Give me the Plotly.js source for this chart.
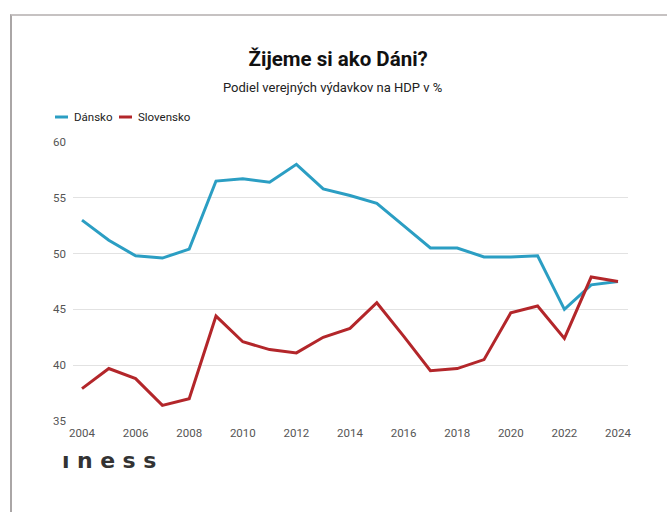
<!DOCTYPE html>
<html>
<head>
<meta charset="utf-8">
<script src="https://cdn.plot.ly/plotly-3.0.1.min.js"></script>
<style>
  html, body { margin: 0; padding: 0; background: #fff; }
  #frame { position: absolute; left: 10px; top: 14px; width: 720px; height: 600px;
           border-top: 2px solid #c6c2c2; border-left: 2px solid #aaa6a6; }
  #chart { position: absolute; left: 0; top: 0; width: 667px; height: 512px; }
  #logo { position: absolute; left: 62px; top: 450px; font-family: "DejaVu Sans", sans-serif;
          font-weight: bold; font-size: 22px; letter-spacing: 7.5px; color: #333; line-height: 22px; }
</style>
</head>
<body>
<div id="frame"></div>
<div id="chart"></div>
<div id="logo">ıness</div>
<script>
const years = [2004, 2005, 2006, 2007, 2008, 2009, 2010, 2011, 2012, 2013, 2014,
               2015, 2016, 2017, 2018, 2019, 2020, 2021, 2022, 2023, 2024];
const dansko = [53.0, 51.2, 49.8, 49.6, 50.4, 56.5, 56.7, 56.4, 58.0, 55.8, 55.2,
                54.5, 52.5, 50.5, 50.5, 49.7, 49.7, 49.8, 45.0, 47.2, 47.5];
const slovensko = [37.9, 39.7, 38.8, 36.4, 37.0, 44.4, 42.1, 41.4, 41.1, 42.5, 43.3,
                   45.6, 42.6, 39.5, 39.7, 40.5, 44.7, 45.3, 42.4, 47.9, 47.5];
const seriesNames = ["Dánsko", "Slovensko"];
const colors = ["#2b9ec3", "#b3262a"];

const traces = [dansko, slovensko].map((vals, i) => ({
  x: years,
  y: vals,
  mode: 'lines',
  name: seriesNames[i],
  line: { color: colors[i], width: 3 },
  showlegend: false
}));

// legend drawn by hand: short swatches + labels
const swatchX = [[-0.0324, -0.009], [0.0829, 0.1063]];
const labelX = [-0.0018, 0.1135];
const legY = 1.0896;

const shapes = swatchX.map((sx, i) => ({
  type: 'line', xref: 'paper', yref: 'paper',
  x0: sx[0], x1: sx[1], y0: legY, y1: legY,
  line: { color: colors[i], width: 3 }
}));

const annotations = [
  {
    text: 'Podiel verejných výdavkov na HDP v %',
    xref: 'paper', yref: 'paper', x: 0.468, y: 1.195,
    xanchor: 'center', yanchor: 'middle', showarrow: false,
    font: { family: 'Roboto', size: 13, color: '#222' }
  }
].concat(seriesNames.map((n, i) => ({
  text: n, xref: 'paper', yref: 'paper', x: labelX[i], y: legY,
  xanchor: 'left', yanchor: 'middle', showarrow: false,
  font: { family: 'Roboto', size: 11.5, color: '#222' }
})));

Plotly.newPlot('chart', traces, {
  width: 667,
  height: 512,
  margin: { l: 73, r: 39, t: 142, b: 91 },
  paper_bgcolor: 'rgba(0,0,0,0)',
  plot_bgcolor: 'rgba(0,0,0,0)',
  font: { family: 'Roboto', color: '#555' },
  title: {
    text: '<b>Žijeme si ako Dáni?</b>',
    x: 0.507, xanchor: 'center', y: 0.885, yanchor: 'middle',
    font: { family: 'Roboto', size: 20.5, color: '#111' }
  },
  xaxis: {
    range: [2003.664, 2024.373],
    tickvals: [2004, 2006, 2008, 2010, 2012, 2014, 2016, 2018, 2020, 2022, 2024],
    showgrid: false, zeroline: false, showline: false,
    ticks: '', ticklen: 0, ticklabelstandoff: 3,
    tickfont: { size: 11.5, color: '#555' }
  },
  yaxis: {
    range: [35, 60],
    dtick: 5,
    showgrid: true, gridcolor: '#e2e2e2', gridwidth: 1,
    zeroline: false, showline: false,
    ticks: '', ticklabelstandoff: 6,
    tickfont: { size: 11.5, color: '#555' }
  },
  shapes: shapes,
  annotations: annotations
}, { displayModeBar: false, staticPlot: true });
</script>
</body>
</html>
